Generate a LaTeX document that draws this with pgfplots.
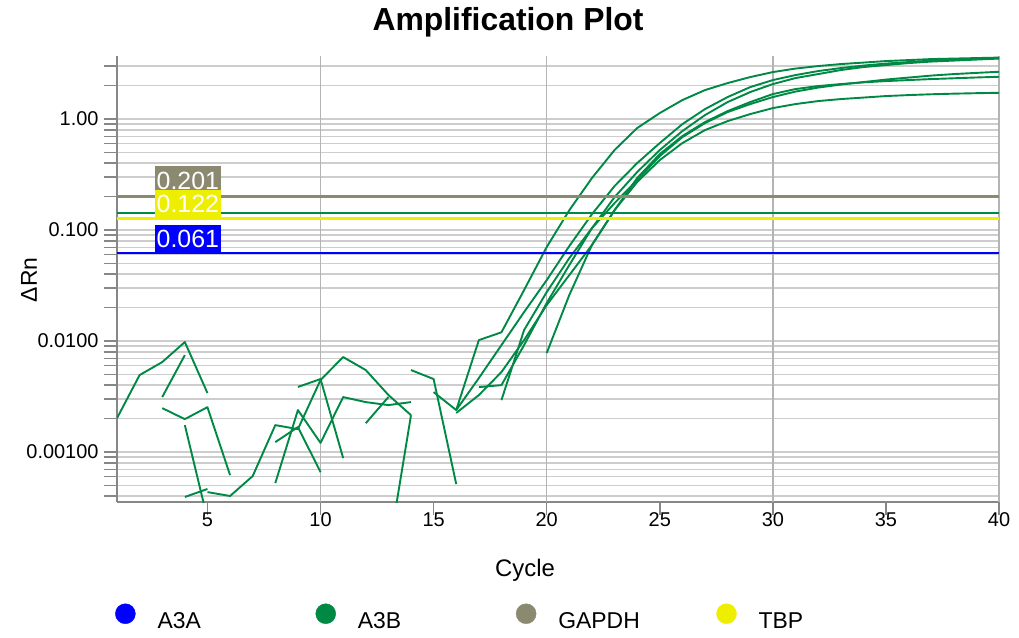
\documentclass[border=0pt]{standalone}
\usepackage{fontspec}
\setmainfont{Liberation Sans}
\usepackage{pgfplots}
\pgfplotsset{compat=1.18}
\definecolor{cA3A}{RGB}{0,0,255}
\definecolor{cA3B}{RGB}{0,137,68}
\definecolor{cGAPDH}{RGB}{139,137,112}
\definecolor{cTBP}{RGB}{238,238,0}
\definecolor{gridc}{RGB}{205,205,205}
\definecolor{vgridc}{RGB}{180,180,180}
\definecolor{axc}{RGB}{135,135,135}
\begin{document}
\begin{tikzpicture}
\path[use as bounding box] (-117bp,-136bp) rectangle (902bp,502bp);
\begin{axis}[
  at={(0,0)}, anchor=south west, scale only axis,
  width=882bp, height=446bp,
  xmin=1, xmax=40,
  ymode=log, ymin=0.000355, ymax=3.7,
  axis x line*=bottom, axis y line*=left,
  axis line style={axc, line width=1.5bp},
  xtick={5,10,...,40},
  extra x ticks={10,20,30,40}, extra x tick labels={},
  extra x tick style={grid=major, major grid style={vgridc, line width=1.5bp}, major tick length=0pt},
  ytick={0.001,0.01,0.1,1},
  yticklabels={0.00100,0.0100,0.100,1.00},
  minor ytick={0.0004,0.0005,0.0006,0.0007,0.0008,0.0009,0.002,0.003,0.004,0.005,0.006,0.007,0.008,0.009,0.02,0.03,0.04,0.05,0.06,0.07,0.08,0.09,0.2,0.3,0.4,0.5,0.6,0.7,0.8,0.9,2,3},
  ymajorgrids, yminorgrids,
  major grid style={gridc, line width=1.5bp},
  minor grid style={gridc, line width=1.5bp},
  tick align=outside,
  tick style={axc, line width=1.5bp},
  major tick length=13bp, minor tick length=13bp,
  xticklabel style={yshift=6bp},
  yticklabel style={xshift=-2bp},
  tick label style={font=\fontsize{20}{24}\selectfont, text=black},
  /pgf/number format/assume math mode=true,
  no markers,
  every axis plot/.append style={line join=round},
  legend columns=4,
  legend style={at={(-0.0023,-0.2601)}, anchor=west, draw=none, fill=none,
    inner sep=0pt, font=\fontsize{23}{28}\selectfont,
    /tikz/every odd column/.append style={column sep=20bp},
    nodes={text width=156bp, align=left}},
]
\addlegendimage{legend image code/.code={\fill[cA3A] (0bp,8bp) circle (10bp);}}
\addlegendentry{A3A}
\addlegendimage{legend image code/.code={\fill[cA3B] (0bp,8bp) circle (10bp);}}
\addlegendentry{A3B}
\addlegendimage{legend image code/.code={\fill[cGAPDH] (0bp,8bp) circle (10bp);}}
\addlegendentry{GAPDH}
\addlegendimage{legend image code/.code={\fill[cTBP] (0bp,8bp) circle (10bp);}}
\addlegendentry{TBP}

% noisy early fragments
\addplot[cA3B, line width=1.9bp] coordinates {(1,0.00202)(2,0.00494)(3,0.00647)(4,0.0098)(5,0.0034)};
\addplot[cA3B, line width=1.9bp] coordinates {(3,0.00313)(4,0.00748)};
\addplot[cA3B, line width=1.9bp] coordinates {(3,0.00249)(4,0.00198)(5,0.00254)(6,0.00062)};
\addplot[cA3B, line width=1.9bp] coordinates {(4,0.00175)(5,0.00025)};
\addplot[cA3B, line width=1.9bp] coordinates {(4,0.000394)(5,0.000465)};
\addplot[cA3B, line width=1.9bp] coordinates {(5,0.000436)(6,0.000402)(7,0.000608)(8,0.00175)(9,0.00161)(10,0.00446)(11,0.00718)(12,0.00548)(13,0.00327)(14,0.00215)};
\addplot[cA3B, line width=1.9bp] coordinates {(8,0.00123)(9,0.00168)(10,0.00066)};
\addplot[cA3B, line width=1.9bp] coordinates {(8,0.000526)(9,0.00239)(10,0.00121)(11,0.00313)(12,0.00282)(13,0.00265)(14,0.00282)};
\addplot[cA3B, line width=1.9bp] coordinates {(9,0.00386)(10,0.00455)(11,0.000883)};
\addplot[cA3B, line width=1.9bp] coordinates {(12,0.00182)(13,0.00313)};
\addplot[cA3B, line width=1.9bp] coordinates {(13,0.000123)(14,0.00215)};
\addplot[cA3B, line width=1.9bp] coordinates {(14,0.00548)(15,0.00455)(16,0.000515)};

% amplification curves
\addplot[cA3B, line width=1.9bp] coordinates {(15,0.00347)(16,0.00239)(17,0.0102)(18,0.0120)(19,0.0288)(20,0.0703)(21,0.151)(22,0.294)(23,0.526)(24,0.830)(25,1.133)(26,1.483)(27,1.825)(28,2.110)(29,2.390)(30,2.651)(31,2.851)(32,3.003)(33,3.130)(34,3.228)(35,3.331)(36,3.400)(37,3.472)(38,3.508)(39,3.545)(40,3.581)};
\addplot[cA3B, line width=1.9bp] coordinates {(16,0.00239)(17,0.00464)(18,0.00920)(19,0.01825)(20,0.0354)(21,0.0718)(22,0.139)(23,0.249)(24,0.401)(25,0.608)(26,0.901)(27,1.230)(28,1.579)(29,1.942)(30,2.246)(31,2.491)(32,2.707)(33,2.880)(34,3.034)(35,3.162)(36,3.262)(37,3.365)(38,3.436)(39,3.486)(40,3.545)};
\addplot[cA3B, line width=1.9bp] coordinates {(17,0.00385)(18,0.00401)(19,0.00920)(20,0.0220)(21,0.0484)(22,0.104)(23,0.198)(24,0.333)(25,0.526)(26,0.780)(27,1.086)(28,1.423)(29,1.751)(30,2.067)(31,2.341)(32,2.543)(33,2.764)(34,2.941)(35,3.066)(36,3.195)(37,3.296)(38,3.365)(39,3.436)(40,3.508)};
\addplot[cA3B, line width=1.9bp] coordinates {(18,0.00294)(19,0.01256)(20,0.0276)(21,0.0559)(22,0.104)(23,0.175)(24,0.282)(25,0.464)(26,0.688)(27,0.920)(28,1.156)(29,1.365)(30,1.579)(31,1.769)(32,1.922)(33,2.046)(34,2.154)(35,2.269)(36,2.365)(37,2.465)(38,2.543)(39,2.607)(40,2.668)};
\addplot[cA3B, line width=1.9bp] coordinates {(20,0.00780)(21,0.0260)(22,0.0733)(23,0.151)(24,0.294)(25,0.484)(26,0.703)(27,0.940)(28,1.180)(29,1.423)(30,1.680)(31,1.864)(32,1.983)(33,2.067)(34,2.141)(35,2.199)(36,2.246)(37,2.293)(38,2.331)(39,2.370)(40,2.405)};
\addplot[cA3B, line width=1.9bp] coordinates {(16,0.00225)(17,0.00326)(18,0.00526)(19,0.0102)(20,0.0211)(21,0.0393)(22,0.0733)(23,0.151)(24,0.271)(25,0.427)(26,0.608)(27,0.796)(28,0.959)(29,1.109)(30,1.256)(31,1.365)(32,1.453)(33,1.514)(34,1.562)(35,1.612)(36,1.645)(37,1.673)(38,1.694)(39,1.711)(40,1.725)};

% thresholds
\addplot[cGAPDH, line width=2.2bp] coordinates {(1,0.201)(40,0.201)};
\addplot[cA3B, line width=2.2bp] coordinates {(1,0.142)(40,0.142)};
\addplot[cTBP, line width=2.2bp] coordinates {(1,0.127)(40,0.127)};
\addplot[cA3A, line width=2.2bp] coordinates {(1,0.062)(40,0.062)};

\node[fill=cGAPDH, text=white, anchor=south west, inner xsep=1.5bp, inner ysep=0pt, minimum height=30bp, font=\fontsize{25}{29}\selectfont] at (axis cs:2.68,0.201) {0.201};
\node[fill=cTBP, text=white, anchor=south west, inner xsep=1.5bp, inner ysep=0pt, minimum height=28bp, font=\fontsize{25}{29}\selectfont] at (axis cs:2.68,0.127) {0.122};
\node[fill=cA3A, text=white, anchor=south west, inner xsep=1.5bp, inner ysep=0pt, minimum height=28bp, font=\fontsize{25}{29}\selectfont] at (axis cs:2.68,0.062) {0.061};
\end{axis}
\node[font=\bfseries\fontsize{32}{38}\selectfont] at (391bp,480bp) {Amplification Plot};
\node[font=\fontsize{24}{29}\selectfont] at (408bp,-68bp) {Cycle};
\node[rotate=90, font=\fontsize{23}{28}\selectfont] at (-88bp,222bp) {ΔRn};
\end{tikzpicture}
\end{document}
